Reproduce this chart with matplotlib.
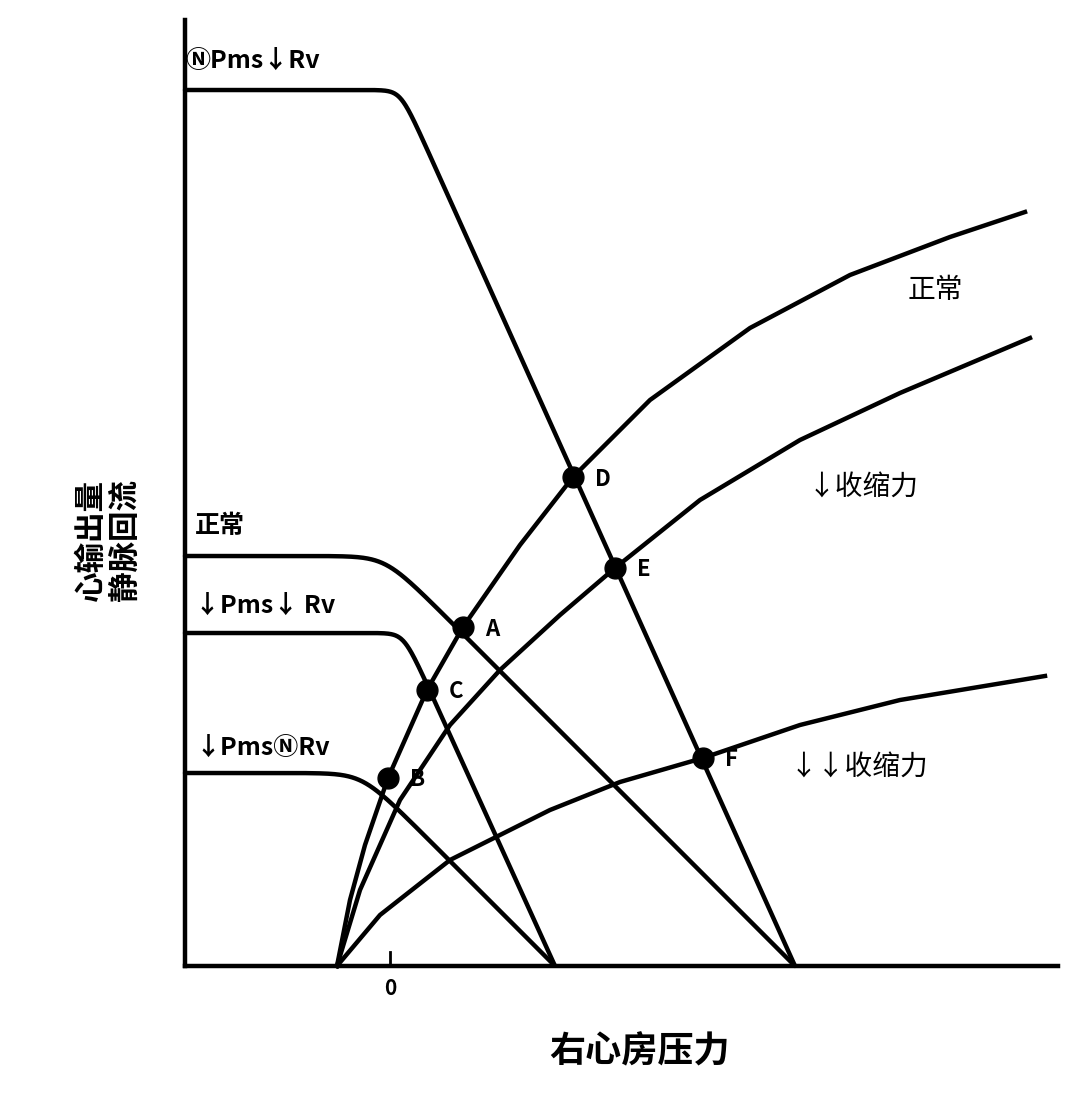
import numpy as np
import matplotlib.pyplot as plt

plt.rcParams['font.family'] = ['Noto Sans CJK SC', 'DejaVu Sans']

# axes in pixel-like units: x to the right of the y axis, y above the x axis
ox, oy = 185, 966

# venous return curves: plateau height, x-axis intercept, slope, label
vr_h = [876, 410, 333, 193]
vr_x0 = [610, 610, 370, 370]
vr_s = [2.22, 1.0, 2.2, 1.0]
vr_labels = ['ⓃPms↓Rv', '正常', '↓Pms↓ Rv', '↓PmsⓃRv']

# cardiac function curves
cf_normal = [(337, 966), (350, 900), (365, 845), (388, 778), (427, 690), (463, 627), (520, 545),
             (573, 477), (650, 400), (750, 328), (850, 275), (950, 237), (1025, 212)]
cf_low = [(337, 966), (360, 890), (400, 800), (450, 725), (500, 670), (560, 615), (615, 568),
          (700, 500), (800, 440), (900, 393), (1030, 338)]
cf_vlow = [(337, 966), (380, 915), (450, 860), (550, 810), (620, 782), (703, 758), (800, 725),
           (900, 700), (1045, 676)]

# equilibrium points
pts = {'A': (463, 627), 'B': (388, 778), 'C': (427, 690), 'D': (573, 477), 'E': (615, 568), 'F': (703, 758)}

fig = plt.figure(figsize=(10.8, 11.06), dpi=100)
ax = fig.add_axes([0, 0, 1, 1])
ax.set_xlim(-ox, 1080 - ox)
ax.set_ylim(-(1106 - oy), oy)
ax.axis('off')

lw = 3.2
ax.plot([0, 0], [0, 946], color='black', lw=lw)
ax.plot([0, 873], [0, 0], color='black', lw=lw)
ax.plot([205, 205], [0, 14], color='black', lw=2)
ax.text(205, -12, '0', ha='center', va='top', fontsize=15, fontweight='bold')

x = np.linspace(0, 700, 1400)
k = 12
for h, x0, s in zip(vr_h, vr_x0, vr_s):
    line = s * (x0 - x)
    y = -k * np.log(np.exp(-h / k) + np.exp(-np.clip(line, -50, None) / k))
    m = y >= 0
    ax.plot(x[m], y[m], color='black', lw=lw, solid_capstyle='round')

for c in (cf_normal, cf_low, cf_vlow):
    c = np.array(c, dtype=float)
    ax.plot(c[:, 0] - ox, oy - c[:, 1], color='black', lw=lw, solid_joinstyle='round')

for name, (px, py) in pts.items():
    ax.plot(px - ox, oy - py, 'o', color='black', ms=15)
    ax.text(px - ox + 22, oy - py - 2, name, ha='left', va='center', fontsize=16, fontweight='bold')

lab_pos = [(0, 905), (10, 440), (10, 360), (10, 218)]
for (lx, ly), t in zip(lab_pos, vr_labels):
    ax.text(lx, ly, t, ha='left', va='center', fontsize=18, fontweight='bold')

ax.text(908 - ox, oy - 290, '正常', ha='left', va='center', fontsize=20)
ax.text(808 - ox, oy - 487, '↓收缩力', ha='left', va='center', fontsize=20)
ax.text(790 - ox, oy - 767, '↓↓收缩力', ha='left', va='center', fontsize=20)

ax.text(108 - ox, oy - 540, '心输出量\n静脉回流', rotation=90, ha='center', va='center',
        fontsize=22, fontweight='bold', linespacing=1.1)
ax.text(640 - ox, oy - 1052, '右心房压力', ha='center', va='center', fontsize=26, fontweight='bold')

fig.savefig('out.png', dpi=100)
